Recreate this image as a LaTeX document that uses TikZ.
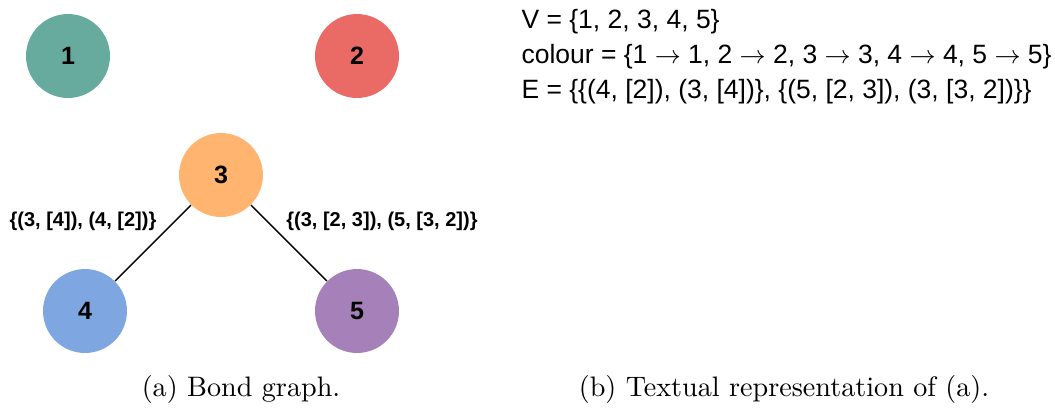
\documentclass[tikz,border=0pt]{standalone}
\usepackage{fontspec}
\setsansfont{Liberation Sans}
\usepackage{xcolor}
\usepackage{tikz}
\usetikzlibrary{positioning}
\definecolor{cOne}{HTML}{67AB9F}
\definecolor{cTwo}{HTML}{EA6B66}
\definecolor{cThree}{HTML}{FFB570}
\definecolor{cFour}{HTML}{7EA6E0}
\definecolor{cFive}{HTML}{A680B8}
\tikzset{
  vertex/.style={circle, fill=#1, draw=none, minimum size=29.8pt, inner sep=0pt,
    font=\sffamily\bfseries\fontsize{8.9}{10}\selectfont},
  bond/.style={draw=black, line width=0.5pt},
  bondlab/.style={font=\sffamily\bfseries\fontsize{7.1}{8}\selectfont, inner sep=0pt},
  repline/.style={anchor=base west, inner sep=0pt, font=\sffamily\fontsize{9.4}{11}\selectfont},
  caption/.style={anchor=base, inner sep=0pt, font=\fontsize{10}{12}\selectfont},
}
\begin{document}
\begin{tikzpicture}[x=0.355pt, y=-0.355pt]
\useasboundingbox (0,0) rectangle (1055,408);
% bond graph
\node[vertex=cOne] (n1) at (68,56) {1};
\node[vertex=cTwo] (n2) at (357,56) {2};
\node[vertex=cThree] (n3) at (221,175) {3};
\node[vertex=cFour] (n4) at (85,311) {4};
\node[vertex=cFive] (n5) at (357,311) {5};
\foreach \a/\b in {n3/n4,n3/n5}
  \draw[bond] (\a) -- (\b);
\node[bondlab] (l34) at (83,221) {\{(3, [4]), (4, [2])\}};
\node[bondlab] (l35) at (382,221) {\{(3, [2, 3]), (5, [3, 2])\}};

% textual representation
\node[repline] (tV) at (521,28) {V = \{1, 2, 3, 4, 5\}};
\node[repline] (tC) at (521,63) {colour = \{1 $\rightarrow$ 1, 2 $\rightarrow$ 2, 3 $\rightarrow$ 3, 4 $\rightarrow$ 4, 5 $\rightarrow$ 5\}};
\node[repline] (tE) at (521,98) {E = \{\{(4, [2]), (3, [4])\}, \{(5, [2, 3]), (3, [3, 2])\}\}};

% captions
\node[caption] (capA) at (241,396) {(a) Bond graph.};
\node[caption] (capB) at (784,396) {(b) Textual representation of (a).};
\end{tikzpicture}
\end{document}
